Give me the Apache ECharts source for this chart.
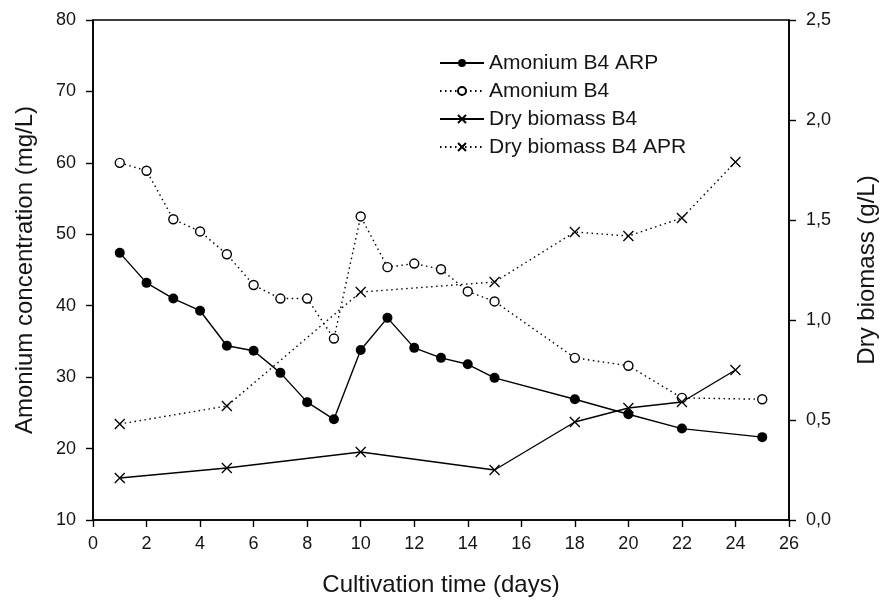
<!DOCTYPE html>
<html>
<head>
<meta charset="utf-8">
<script src="https://cdn.jsdelivr.net/npm/echarts@6/dist/echarts.min.js"></script>
<style>
  html, body { margin: 0; padding: 0; background: #fff; }
  #chart { width: 887px; height: 602px; }
</style>
</head>
<body>
<div id="chart"></div>
<script>
// Ammonium concentration (mg/L) by cultivation day
const daysAmonium = [1, 2, 3, 4, 5, 6, 7, 8, 9, 10, 11, 12, 13, 14, 15, 18, 20, 22, 25];
const amoniumB4ARP = [47.4, 43.2, 41.0, 39.3, 34.4, 33.7, 30.6, 26.5, 24.1, 33.8, 38.3, 34.1, 32.7, 31.8, 29.9, 26.9, 24.8, 22.8, 21.6];
const amoniumB4 = [60.0, 58.9, 52.1, 50.4, 47.2, 42.9, 41.0, 41.0, 35.4, 52.5, 45.4, 45.9, 45.1, 42.0, 40.6, 32.7, 31.6, 27.1, 26.9];

// Dry biomass (g/L) by cultivation day
const daysBiomass = [1, 5, 10, 15, 18, 20, 22, 24];
const dryBiomassB4 = [0.21, 0.26, 0.34, 0.25, 0.49, 0.56, 0.59, 0.75];
const dryBiomassB4APR = [0.48, 0.57, 1.14, 1.19, 1.44, 1.42, 1.51, 1.79];

const pairs = (xs, ys) => xs.map((x, i) => [x, ys[i]]);

const FONT = '"Liberation Sans", Arial, sans-serif';
const INK = '#000';
const TEXT = '#151515';
const crossPath = 'path://M0,0L10,10M10,0L0,10';

const chart = echarts.init(document.getElementById('chart'), null, { renderer: 'canvas' });

const axisCommon = {
  axisLine: { show: true, lineStyle: { color: INK, width: 1.6 } },
  axisTick: { show: true, inside: false, length: 7, lineStyle: { color: INK, width: 1.4 } },
  splitLine: { show: false },
  axisLabel: { color: TEXT, fontFamily: FONT, fontSize: 18 },
  nameTextStyle: { color: TEXT, fontFamily: FONT, fontSize: 24 }
};

chart.setOption({
  animation: false,
  backgroundColor: '#fff',
  grid: { left: 93, right: 92, top: 20, bottom: 80, show: true, borderColor: INK, borderWidth: 1.6 },
  legend: {
    orient: 'vertical',
    left: 434,
    top: 47,
    itemWidth: 44,
    itemHeight: 10,
    itemGap: 6,
    textStyle: { color: TEXT, fontFamily: FONT, fontSize: 21, lineHeight: 22 },
    data: ['Amonium B4 ARP', 'Amonium B4', 'Dry biomass B4', 'Dry biomass B4 APR']
  },
  xAxis: {
    ...axisCommon,
    type: 'value',
    min: 0, max: 26, interval: 2,
    name: 'Cultivation time (days)',
    nameLocation: 'middle',
    nameGap: 53,
    axisLabel: { ...axisCommon.axisLabel, margin: 15 }
  },
  yAxis: [
    {
      ...axisCommon,
      type: 'value',
      position: 'left',
      min: 10, max: 80, interval: 10,
      name: 'Amonium concentration (mg/L)',
      nameLocation: 'middle',
      nameGap: 56,
      axisLabel: { ...axisCommon.axisLabel, margin: 17 }
    },
    {
      ...axisCommon,
      type: 'value',
      position: 'right',
      min: 0, max: 2.5, interval: 0.5,
      name: 'Dry biomass (g/L)',
      nameLocation: 'middle',
      nameGap: 66,
      nameRotate: 90,
      axisLabel: {
        ...axisCommon.axisLabel, margin: 17,
        formatter: v => v.toFixed(1).replace('.', ',')
      }
    }
  ],
  series: [
    {
      name: 'Amonium B4 ARP',
      type: 'line',
      yAxisIndex: 0,
      data: pairs(daysAmonium, amoniumB4ARP),
      symbol: 'circle', symbolSize: 10,
      lineStyle: { color: INK, width: 1.4, type: 'solid' },
      itemStyle: { color: INK, borderColor: INK, borderWidth: 0 }
    },
    {
      name: 'Amonium B4',
      type: 'line',
      yAxisIndex: 0,
      data: pairs(daysAmonium, amoniumB4),
      symbol: 'circle', symbolSize: 9,
      lineStyle: { color: INK, width: 1.4, type: [1.5, 3.5] },
      itemStyle: { color: '#fff', borderColor: INK, borderWidth: 1.4 }
    },
    {
      name: 'Dry biomass B4',
      type: 'line',
      yAxisIndex: 1,
      data: pairs(daysBiomass, dryBiomassB4),
      symbol: crossPath, symbolSize: 10,
      lineStyle: { color: INK, width: 1.4, type: 'solid' },
      itemStyle: { color: 'none', borderColor: INK, borderWidth: 1.3 }
    },
    {
      name: 'Dry biomass B4 APR',
      type: 'line',
      yAxisIndex: 1,
      data: pairs(daysBiomass, dryBiomassB4APR),
      symbol: crossPath, symbolSize: 10,
      lineStyle: { color: INK, width: 1.4, type: [1.5, 3.5] },
      itemStyle: { color: 'none', borderColor: INK, borderWidth: 1.3 }
    }
  ]
});
</script>
</body>
</html>
